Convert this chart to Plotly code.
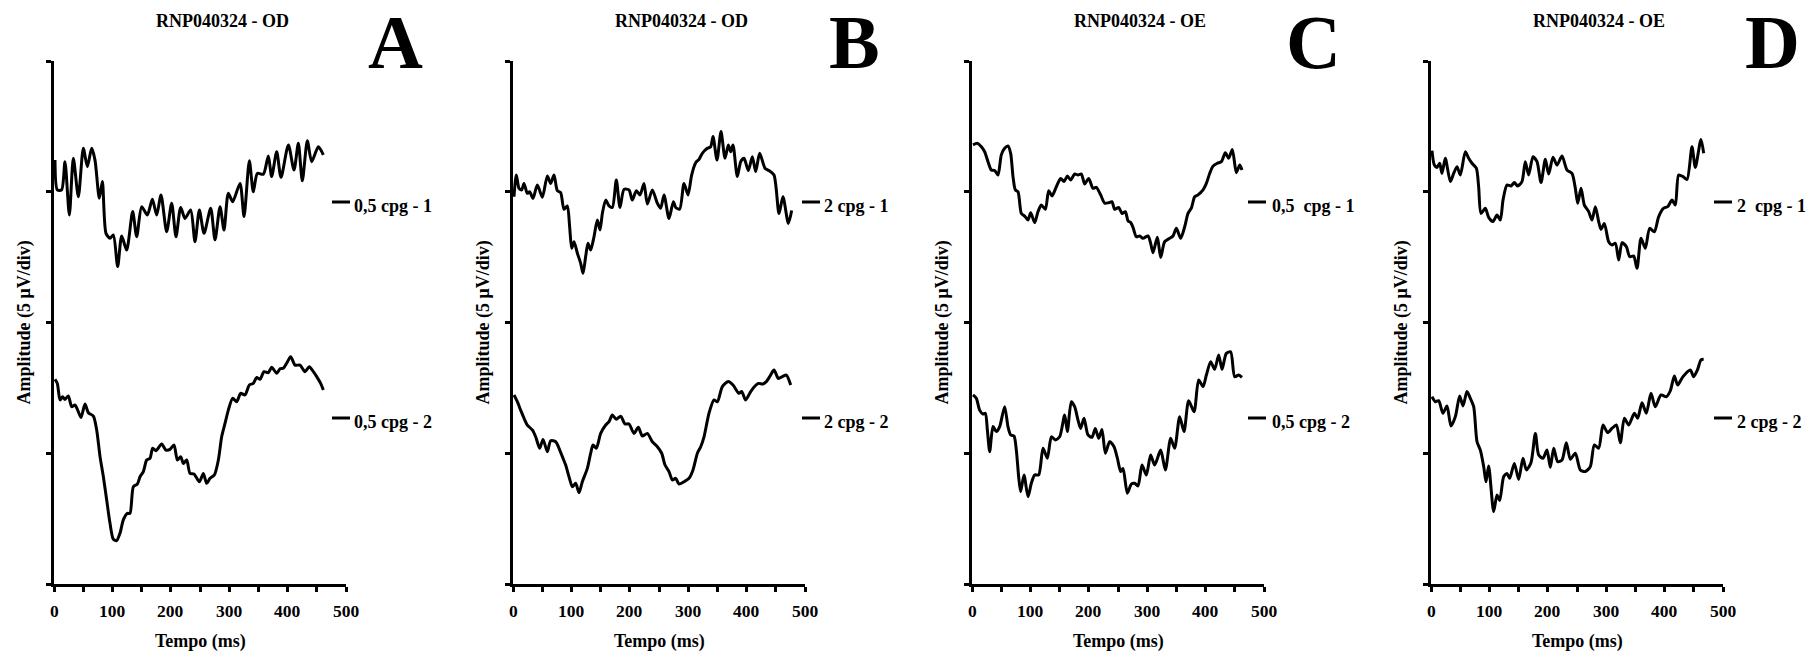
import plotly.graph_objects as go

# ---------------- data (time in ms, amplitude in µV; 5 µV per division) ----------------
# Panel A  (RNP040324 - OD, 0,5 cpg)
a1_t = [1.7, 5.7, 13.1, 18.8, 26.3, 33.1, 41.7, 50.2, 57.1, 64.5, 70.2, 77.6, 82.8, 89.0, 95.9, 101.6,
        109.0, 115.9, 124.4, 134.7, 141.6, 150.1, 159.8, 168.4, 175.8, 183.2, 192.9, 201.5, 208.9, 216.9,
        224.3, 234.0, 241.4, 248.9, 256.9, 268.3, 275.7, 284.3, 291.1, 298.5, 305.9, 318.5, 325.4, 334.5,
        341.3, 348.2, 358.5, 367.0, 372.7, 381.3, 388.7, 401.3, 411.0, 418.4, 425.2, 433.8, 441.2, 452.6, 461.2]
a1_v = [16.21, 15.07, 15.07, 16.15, 14.11, 16.28, 14.81, 16.66, 15.96, 16.66, 16.21, 14.75, 15.39, 13.41, 13.22, 13.35,
        12.14, 13.31, 12.77, 14.24, 13.28, 14.43, 14.11, 14.71, 14.11, 14.88, 13.47, 14.56, 13.28, 14.40,
        13.98, 14.30, 13.09, 14.30, 13.41, 14.37, 13.16, 14.43, 13.54, 14.94, 14.62, 15.32, 14.05, 16.19,
        15.00, 15.70, 15.67, 16.37, 15.58, 16.53, 15.55, 16.79, 15.83, 16.85, 15.42, 16.95, 16.15, 16.72, 16.41]
a2_t = [1.7, 5.7, 10.3, 14.8, 18.8, 24.5, 30.3, 36.0, 40.0, 46.2, 53.1, 58.8, 67.4, 73.1, 78.8, 84.5, 90.2,
        95.9, 101.6, 107.3, 113.0, 118.7, 125.6, 130.1, 135.9, 142.7, 147.3, 153.0, 158.7, 164.4, 169.0,
        174.7, 184.4, 191.8, 198.6, 205.5, 211.2, 216.9, 221.5, 227.2, 232.9, 239.7, 248.9, 255.7, 261.4,
        267.1, 274.6, 281.4, 287.1, 292.8, 298.5, 305.9, 312.8, 319.6, 327.1, 334.5, 341.3, 347.1, 352.8,
        359.6, 367.0, 372.7, 381.3, 387.0, 392.7, 398.4, 405.3, 412.7, 421.3, 429.8, 437.2, 444.1, 449.8,
        456.6, 461.2]
a2_v = [7.83, 7.67, 7.04, 7.16, 7.06, 7.19, 6.78, 6.85, 6.68, 6.37, 6.88, 6.55, 6.42, 5.89, 4.87, 4.10, 3.21,
        2.32, 1.71, 1.66, 1.94, 2.45, 2.70, 2.70, 3.72, 3.82, 4.10, 4.30, 4.74, 4.81, 5.19,
        5.10, 5.35, 5.12, 5.15, 5.32, 4.74, 4.87, 4.61, 4.74, 4.23, 4.21, 3.91, 4.23, 3.85,
        4.04, 4.17, 4.74, 5.63, 6.14, 6.65, 7.10, 6.97, 7.29, 7.23, 7.61, 7.67, 7.90, 7.83,
        8.12, 8.08, 8.29, 8.06, 8.23, 8.25, 8.44, 8.69, 8.37, 8.37, 8.12, 8.31, 8.12, 7.93,
        7.67, 7.42]

# Panel B  (RNP040324 - OD, 2 cpg)
b1_t = [1.7, 5.7, 10.3, 14.8, 18.8, 24.5, 28.5, 34.2, 41.7, 50.2, 58.8, 64.5, 70.2, 75.9, 81.6, 87.3, 93.0,
        97.0, 100.5, 104.5, 110.2, 115.9, 119.9, 124.4, 128.4, 133.0, 138.7, 144.4, 149.0, 153.0, 158.7,
        164.4, 170.1, 176.9, 183.2, 190.1, 198.6, 204.3, 211.2, 217.5, 224.3, 230.0, 238.6, 247.2, 252.9,
        258.6, 267.1, 274.6, 278.6, 285.4, 292.8, 299.7, 305.9, 312.8, 318.5, 324.2, 332.8, 338.5, 342.5,
        349.3, 356.2, 363.0, 368.7, 372.7, 376.7, 384.1, 389.9, 395.6, 403.0, 409.8, 415.5, 422.4, 431.5,
        438.4, 446.9, 455.5, 462.3, 471.5, 477.2]
b1_v = [14.81, 15.64, 15.13, 15.07, 15.32, 14.94, 15.00, 14.75, 15.26, 14.79, 15.60, 15.32, 15.64, 15.04, 14.97, 14.33, 14.46,
        13.66, 12.84, 13.09, 12.65, 12.26, 11.88, 12.52, 13.03, 12.77, 13.28, 13.92, 13.54, 14.17, 14.68,
        14.46, 14.40, 15.45, 14.40, 15.09, 15.07, 14.68, 15.04, 14.88, 15.32, 14.53, 15.07, 14.56, 14.37,
        14.88, 13.98, 14.62, 14.40, 14.33, 15.32, 14.88, 15.64, 16.11, 16.24, 16.47, 16.66, 16.72, 17.11,
        16.21, 17.30, 16.28, 16.79, 16.53, 16.79, 15.58, 16.15, 16.28, 15.81, 16.34, 15.77, 16.47, 15.90,
        15.81, 15.64, 14.17, 14.81, 13.79, 14.28]
b2_t = [1.7, 7.4, 13.1, 18.8, 24.5, 33.1, 38.8, 45.7, 51.4, 58.8, 64.5, 73.1, 78.8, 84.5, 90.2, 95.9, 101.6,
        107.3, 113.0, 118.7, 127.3, 133.0, 137.0, 142.7, 150.1, 158.7, 164.4, 170.1, 176.9, 184.4, 191.8,
        198.6, 207.2, 214.6, 221.5, 230.0, 238.6, 247.2, 254.6, 260.3, 267.1, 272.8, 278.6, 284.3, 292.8,
        301.4, 308.2, 315.7, 321.4, 327.1, 335.6, 344.2, 349.9, 358.5, 368.7, 376.7, 387.0, 391.6, 398.4,
        407.0, 414.4, 420.1, 428.1, 433.8, 439.5, 446.9, 454.4, 461.2, 468.1, 475.5]
b2_v = [7.23, 6.97, 6.65, 6.34, 6.08, 5.89, 5.63, 5.19, 5.53, 5.06, 5.48, 5.44, 5.19, 4.87, 4.55, 4.10, 3.72,
        3.85, 3.49, 3.91, 4.42, 5.00, 5.32, 5.19, 5.76, 6.08, 6.21, 6.46, 6.30, 6.42, 6.12,
        6.12, 5.76, 5.99, 5.66, 5.76, 5.44, 5.25, 5.00, 4.55, 4.30, 3.98, 4.04, 3.82, 3.91,
        4.04, 4.36, 5.00, 5.25, 5.63, 6.53, 7.04, 6.97, 7.55, 7.74, 7.61, 7.29, 7.36, 7.04,
        7.36, 7.57, 7.67, 7.65, 7.74, 7.93, 8.18, 7.86, 7.93, 7.99, 7.61]

# Panel C  (RNP040324 - OE, 0,5 cpg)
c1_t = [1.7, 9.1, 16.0, 21.7, 27.4, 33.1, 38.8, 44.5, 50.2, 55.9, 61.6, 66.2, 70.2, 74.2, 78.8, 84.5, 90.2,
        95.9, 100.5, 107.3, 113.0, 118.7, 125.6, 131.3, 137.0, 144.4, 151.8, 157.5, 163.3, 169.0, 175.8,
        181.5, 187.2, 192.9, 199.8, 207.2, 212.9, 220.3, 227.2, 234.0, 239.7, 244.3, 251.2, 256.9, 262.6,
        267.1, 271.7, 275.7, 281.4, 287.1, 292.8, 301.4, 305.9, 309.9, 317.4, 323.1, 329.9, 338.5, 344.2,
        349.9, 357.3, 364.2, 369.9, 375.6, 381.3, 387.0, 395.6, 401.3, 407.0, 412.7, 420.1, 427.0, 433.8,
        439.5, 445.8, 452.6, 458.4, 462.3]
c1_v = [16.79, 16.85, 16.72, 16.53, 16.15, 15.83, 15.81, 15.64, 16.41, 16.66, 16.75, 16.47, 15.58, 15.07, 15.00, 14.17, 14.07,
        13.92, 14.20, 13.82, 14.24, 14.49, 14.33, 15.04, 14.84, 15.19, 15.51, 15.39, 15.60, 15.45, 15.68,
        15.64, 15.68, 15.30, 15.51, 15.13, 15.17, 14.88, 14.56, 14.58, 14.62, 14.33, 14.40, 14.17, 14.24,
        13.89, 13.82, 13.64, 13.28, 13.31, 13.22, 13.31, 13.03, 12.67, 13.26, 12.49, 13.09, 13.22, 13.31,
        13.60, 13.22, 13.66, 14.17, 14.37, 14.81, 14.88, 15.07, 15.32, 15.70, 15.98, 16.09, 16.15, 16.49,
        16.28, 16.62, 15.73, 16.02, 15.83]
c2_t = [1.7, 7.4, 13.1, 18.8, 22.8, 26.3, 30.3, 36.0, 41.7, 47.4, 55.9, 61.6, 66.2, 71.9, 75.9, 79.9, 83.3,
        89.0, 95.9, 101.6, 107.3, 114.2, 121.6, 129.0, 135.9, 142.7, 150.1, 158.7, 163.3, 170.1, 175.8,
        181.5, 186.1, 191.8, 198.6, 205.5, 211.2, 216.9, 222.6, 228.3, 235.7, 243.2, 248.9, 254.6, 258.6,
        266.0, 272.8, 278.6, 284.3, 291.1, 298.5, 305.9, 312.8, 323.1, 331.1, 340.2, 347.0, 355.6, 363.0,
        371.0, 380.2, 388.1, 395.6, 401.3, 408.7, 415.5, 422.4, 428.1, 435.5, 442.9, 449.8, 456.6, 462.3]
c2_v = [7.23, 7.10, 6.65, 6.50, 6.53, 5.89, 5.06, 6.02, 5.83, 6.02, 6.78, 6.02, 5.70, 5.66, 5.12, 4.10, 3.53,
        4.17, 3.34, 3.85, 4.17, 4.17, 5.19, 4.81, 5.63, 5.51, 5.63, 6.46, 5.83, 6.97, 6.78,
        6.27, 5.95, 6.34, 5.70, 5.61, 5.95, 5.57, 5.91, 5.00, 5.44, 5.25, 4.81, 4.30, 4.42,
        3.47, 3.82, 3.85, 3.75, 4.55, 4.17, 4.93, 4.55, 5.12, 4.36, 5.57, 5.19, 6.40, 5.83,
        7.01, 6.59, 7.80, 7.55, 7.99, 8.50, 8.21, 8.76, 8.21, 8.82, 8.88, 7.93, 7.99, 7.90]

# Panel D  (RNP040324 - OE, 2 cpg)
d1_t = [1.7, 5.7, 10.3, 14.8, 18.8, 24.5, 33.1, 38.8, 44.5, 50.2, 58.8, 64.5, 70.2, 77.6, 81.6, 85.6, 93.0,
        98.7, 106.2, 113.0, 118.7, 123.3, 130.1, 137.0, 142.7, 148.4, 155.8, 161.5, 167.2, 174.7, 181.5,
        188.4, 195.8, 201.5, 208.9, 215.8, 224.3, 232.9, 241.4, 247.2, 251.2, 256.9, 262.6, 270.0, 275.7,
        281.4, 287.1, 291.1, 296.8, 304.2, 309.9, 315.7, 321.4, 327.1, 334.5, 340.2, 347.0, 352.8, 359.6,
        367.0, 374.4, 382.4, 389.9, 398.4, 405.3, 412.7, 418.4, 424.1, 431.5, 438.4, 446.9, 452.6, 462.3, 466.9]
d1_v = [16.57, 16.02, 15.93, 16.09, 15.70, 16.28, 15.39, 15.70, 15.96, 15.64, 16.53, 16.28, 16.09, 15.90, 15.19, 14.17, 14.37,
        14.02, 13.86, 14.11, 13.92, 14.68, 15.26, 15.22, 15.35, 15.22, 15.39, 16.15, 15.64, 16.34, 16.15,
        15.35, 16.24, 15.68, 16.32, 16.02, 16.37, 15.83, 15.70, 15.13, 14.56, 15.13, 14.49, 14.24, 13.92,
        14.43, 13.86, 13.56, 13.79, 13.09, 12.96, 13.03, 12.39, 13.05, 12.90, 12.52, 12.54, 12.07, 13.22,
        12.84, 13.60, 13.47, 14.05, 14.37, 14.43, 14.68, 14.49, 15.64, 15.58, 15.47, 16.72, 15.93, 17.00, 16.47]
d2_t = [1.7, 7.4, 13.1, 20.5, 27.4, 34.2, 41.7, 49.1, 54.8, 61.6, 67.4, 73.1, 78.8, 84.5, 90.2, 94.2, 98.7,
        107.3, 113.0, 117.6, 124.4, 130.1, 134.7, 142.7, 150.1, 157.5, 163.3, 171.2, 178.7, 184.4, 191.8,
        198.6, 204.3, 210.1, 216.9, 224.3, 231.7, 238.6, 247.2, 255.7, 264.3, 272.8, 279.7, 287.1, 294.5,
        302.5, 309.9, 317.4, 324.2, 331.1, 338.5, 348.2, 353.9, 361.3, 368.7, 376.7, 384.1, 393.8, 403.0,
        409.8, 416.7, 422.4, 431.5, 444.1, 449.8, 456.6, 462.3, 466.9]
d2_v = [7.16, 6.97, 7.01, 6.53, 6.81, 6.04, 6.40, 7.19, 6.81, 7.36, 7.10, 6.78, 5.44, 5.12, 4.49, 3.91, 4.51,
        2.77, 3.40, 3.19, 4.10, 4.23, 4.04, 4.61, 4.00, 4.81, 4.36, 4.64, 5.76, 4.93, 4.81,
        5.12, 4.46, 5.19, 4.68, 4.74, 5.40, 4.77, 5.00, 4.36, 4.30, 4.49, 5.32, 5.19, 6.08,
        5.79, 5.95, 6.08, 5.40, 6.34, 6.08, 6.53, 6.34, 6.93, 6.53, 7.29, 6.78, 7.23, 7.16,
        7.39, 7.95, 7.61, 7.93, 8.18, 7.93, 8.21, 8.57, 8.59]

panel_titles = ["RNP040324 - OD", "RNP040324 - OD", "RNP040324 - OE", "RNP040324 - OE"]
panel_letters = ["A", "B", "C", "D"]
labels_top = ["0,5 cpg - 1", "2 cpg - 1", "0,5\u00a0\u00a0cpg - 1", "2\u00a0\u00a0cpg - 1"]
labels_bottom = ["0,5 cpg - 2", "2 cpg - 2", "0,5 cpg - 2", "2 cpg - 2"]
x_tickvals = [0, 50, 100, 150, 200, 250, 300, 350, 400, 450, 500]
x_labelvals = [0, 100, 200, 300, 400, 500]
x_labeltext = ["0", "100", "200", "300", "400", "500"]
y_tickvals = [0, 5, 10, 15, 20]
x_title = "Tempo (ms)"
y_title = "Amplitude (5 \u03bcV/div)"

series = [(a1_t, a1_v, a2_t, a2_v), (b1_t, b1_v, b2_t, b2_v),
          (c1_t, c1_v, c2_t, c2_v), (d1_t, d1_v, d2_t, d2_v)]

# ---------------- layout geometry (pixels) ----------------
W, H = 1807, 651
def px(x):
    return x / W
def py(y):
    return 1 - y / H

FONT = "Liberation Serif, Times New Roman, serif"
panel_left = [54, 513, 972, 1431]
panel_w = 292
plot_top, plot_bottom = 61, 584
leg_line_x = [332, 802, 1248, 1714]
leg_text_x = [352, 822, 1270, 1735]
leg_y = [202, 418]
TXT = 18

fig = go.Figure()
layout = dict(width=W, height=H, margin=dict(l=0, r=0, t=0, b=0),
              paper_bgcolor="white", plot_bgcolor="white", showlegend=False,
              font=dict(family=FONT, color="black"))
annotations = []
shapes = []

for i, (t1, v1, t2, v2) in enumerate(series):
    n = i + 1
    xk = "xaxis" if n == 1 else f"xaxis{n}"
    yk = "yaxis" if n == 1 else f"yaxis{n}"
    xr = "x" if n == 1 else f"x{n}"
    yr = "y" if n == 1 else f"y{n}"
    L = panel_left[i]
    layout[xk] = dict(domain=[px(L), px(L + panel_w)], range=[0, 500], anchor=yr,
                      showline=True, linecolor="black", linewidth=3,
                      ticks="outside", ticklen=5, tickwidth=2.5, tickcolor="black",
                      tickmode="array", tickvals=x_tickvals, showticklabels=False,
                      showgrid=False, zeroline=False)
    layout[yk] = dict(domain=[py(plot_bottom), py(plot_top)], range=[0, 20], anchor=xr,
                      showline=True, linecolor="black", linewidth=3,
                      ticks="outside", ticklen=5, tickwidth=2.5, tickcolor="black",
                      tickmode="array", tickvals=y_tickvals, showticklabels=False,
                      showgrid=False, zeroline=False)
    for (t, v, lab) in [(t1, v1, labels_top[i]), (t2, v2, labels_bottom[i])]:
        fig.add_trace(go.Scatter(x=t, y=v, mode="lines", name=lab, xaxis=xr, yaxis=yr,
                                 line=dict(color="black", width=3, shape="spline", smoothing=0.7)))
    # x tick labels, placed on the axis scale
    for val, txt in zip(x_labelvals, x_labeltext):
        annotations.append(dict(text=txt, x=val, xref=xr, y=py(611), yref="paper",
                                xanchor="center", yanchor="middle", showarrow=False,
                                font=dict(family=FONT, size=17.5, color="black", weight="bold")))
    # panel title
    annotations.append(dict(text=panel_titles[i], x=px(L + panel_w / 2 + 22), y=py(21),
                            xref="paper", yref="paper", xanchor="center", yanchor="middle",
                            showarrow=False, font=dict(family=FONT, size=TXT, color="black", weight="bold")))
    # panel letter
    annotations.append(dict(text=panel_letters[i], x=px(L + 341), y=py(42),
                            xref="paper", yref="paper", xanchor="center", yanchor="middle",
                            showarrow=False, font=dict(family=FONT, size=76, color="black", weight="bold")))
    # axis titles
    annotations.append(dict(text=x_title, x=px(L + panel_w / 2), y=py(641),
                            xref="paper", yref="paper", xanchor="center", yanchor="middle",
                            showarrow=False, font=dict(family=FONT, size=TXT, color="black", weight="bold")))
    annotations.append(dict(text=y_title, x=px(L - 30), y=py((plot_top + plot_bottom) / 2),
                            xref="paper", yref="paper", xanchor="center", yanchor="middle",
                            textangle=-90, showarrow=False,
                            font=dict(family=FONT, size=TXT, color="black", weight="bold")))
    # legend entries
    for lab, ly in [(labels_top[i], leg_y[0]), (labels_bottom[i], leg_y[1])]:
        shapes.append(dict(type="line", xref="paper", yref="paper",
                           x0=px(leg_line_x[i]), x1=px(leg_line_x[i] + 18), y0=py(ly), y1=py(ly),
                           line=dict(color="black", width=3)))
        annotations.append(dict(text=lab, x=px(leg_text_x[i]), y=py(ly + 4),
                                xref="paper", yref="paper", xanchor="left", yanchor="middle",
                                showarrow=False, font=dict(family=FONT, size=TXT, color="black", weight="bold")))

layout["annotations"] = annotations
layout["shapes"] = shapes
fig.update_layout(**layout)
fig.write_html("out.html")
